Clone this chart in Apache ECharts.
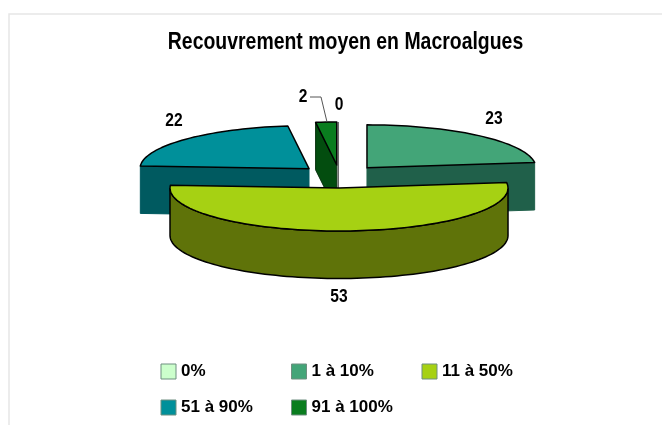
<!DOCTYPE html>
<html>
<head>
<meta charset="utf-8">
<script src="https://cdn.jsdelivr.net/npm/echarts@6/dist/echarts.min.js"></script>
<style>
	html, body { margin: 0; padding: 0; background: #fff; }
	#chart { width: 662px; height: 425px; }
</style>
</head>
<body>
<div id="chart"></div>
<script>

var titleText = 'Recouvrement moyen en Macroalgues';
var categories = ['0%', '1 à 10%', '11 à 50%', '51 à 90%', '91 à 100%'];
var values = [0, 23, 53, 22, 2];

var topColors = ['#ccffcc', '#43a578', '#a6d113', '#00909a', '#0a7d1f'];
var sideColors = ['#ffffff', '#20604a', '#5f7309', '#005a60', '#034d0f'];
// paint order, the big slice sits in front of all the others
var paintOrder = [1, 2, 4, 2, 3];
// where each value label is centred
var labelAt = [[339, 105], [494, 119], [339, 297], [174, 121], [303, 97]];
// small sideways corrections per slice, the original explode is not quite even
var nudgeX = [-1.2, 0, -1.7, 0, 0];

var FONT = '"Liberation Sans", Arial, sans-serif';
var NARROW = 0.82;             // the original type is a squeezed Arial
var cx = 339.4, cy = 176.5;    // pie centre before explode
var rx = 169, ry = 43;         // ellipse radii
var depth = 47.5;              // height of the extrusion
var explodeX = 41.7, explodeY = 11.5;

var total = values.reduce(function (a, b) { return a + b; }, 0);

function sliceAngles(idx) {
	var before = 0;
	for (var i = 0; i < idx; i++) before += values[i];
	return [before / total * 360, (before + values[idx]) / total * 360];
}

function rad(d) { return d * Math.PI / 180; }

function rimPoint(c, deg, dy) {
	return [c[0] + rx * Math.sin(rad(deg)), c[1] - ry * Math.cos(rad(deg)) + (dy || 0)];
}

function arcPoints(c, from, to, dy) {
	var pts = [];
	var n = Math.max(1, Math.ceil(Math.abs(to - from) / 2));
	for (var i = 0; i <= n; i++) pts.push(rimPoint(c, from + (to - from) * i / n, dy));
	return pts;
}

function cutFace(c, deg, idx) {
	var p = rimPoint(c, deg);
	return {
		type: 'polygon',
		shape: { points: [c, p, [p[0], p[1] + depth], [c[0], c[1] + depth]] },
		style: { fill: sideColors[idx], stroke: idx === 4 ? '#06300c' : sideColors[idx], lineWidth: 1 }
	};
}

function renderSlice(idx) {
	return function (params, api) {
		var a = sliceAngles(idx);
		var mid = rad((a[0] + a[1]) / 2);
		var c = [cx + nudgeX[idx] + explodeX * Math.sin(mid), cy - explodeY * Math.cos(mid)];
		var kids = [];

		if (values[idx] === 0) {
			// empty class: only a hairline is left of it
			kids.push({
				type: 'polyline',
				shape: { points: [rimPoint(c, 0), [c[0], c[1] + depth]] },
				style: { fill: 'none', stroke: '#444', lineWidth: 1.2 }
			});
		} else {
			if (Math.sin(rad(a[0])) < -1e-6) kids.push(cutFace(c, a[0], idx));
			if (Math.sin(rad(a[1])) > 1e-6) kids.push(cutFace(c, a[1], idx));

			var wallFrom = Math.max(a[0], 90), wallTo = Math.min(a[1], 270);
			if (wallTo > wallFrom) {
				kids.push({
					type: 'polygon',
					shape: { points: arcPoints(c, wallFrom, wallTo, 0).concat(arcPoints(c, wallTo, wallFrom, depth)) },
					style: { fill: sideColors[idx], stroke: '#000', lineWidth: 1.5 }
				});
			}
			kids.push({
				type: 'polygon',
				shape: { points: [c].concat(arcPoints(c, a[0], a[1], 0)) },
				style: { fill: topColors[idx], stroke: '#000', lineWidth: 1.5, lineJoin: 'round' }
			});
		}

		kids.push({
			type: 'text',
			x: labelAt[idx][0],
			y: labelAt[idx][1],
			scaleX: NARROW,
			style: {
				text: String(api.value(0)),
				fill: '#000',
				font: 'bold 19px ' + FONT,
				align: 'center',
				verticalAlign: 'middle'
			}
		});
		return { type: 'group', children: kids };
	};
}

var series = categories.map(function (name, idx) {
	return {
		name: name,
		type: 'custom',
		coordinateSystem: 'none',
		silent: true,
		z: 2 + paintOrder[idx],
		itemStyle: { color: topColors[idx] },
		renderItem: renderSlice(idx),
		data: [[values[idx]]]
	};
});

var chart = echarts.init(document.getElementById('chart'));

chart.setOption({
	backgroundColor: '#fff',
	animation: false,
	legend: {
		left: 155.5,
		top: 358,
		width: 420,
		itemWidth: 15,
		itemHeight: 15,
		itemGap: 19,
		itemTextGap: 4,
		itemStyle: { borderColor: '#6f8f80', borderWidth: 1 },
		selectedMode: false,
		icon: 'rect',
		data: categories,
		formatter: function (name) { return '{t|' + name + '}'; },
		textStyle: {
			rich: {
				t: { width: 91, height: 15, lineHeight: 15, fontFamily: FONT, fontSize: 17, fontWeight: 'bold', color: '#000' }
			}
		}
	},
	graphic: [
		{
			type: 'polyline',
			silent: true,
			shape: { points: [[662, 14], [9, 14], [9, 425]] },
			style: { fill: 'none', stroke: '#e6e6e6', lineWidth: 1.5 }
		},
		{
			type: 'text',
			silent: true,
			x: 345.5,
			y: 42.5,
			scaleX: 0.81,
			style: {
				text: titleText,
				fill: '#000',
				font: 'bold 24px ' + FONT,
				align: 'center',
				verticalAlign: 'middle'
			}
		},
		{
			// leader line of the small slice
			type: 'polyline',
			silent: true,
			z: 10,
			shape: { points: [[310, 97], [321, 97], [327, 122]] },
			style: { fill: 'none', stroke: '#555', lineWidth: 1 }
		}
	],
	series: series
});

</script>
</body>
</html>
